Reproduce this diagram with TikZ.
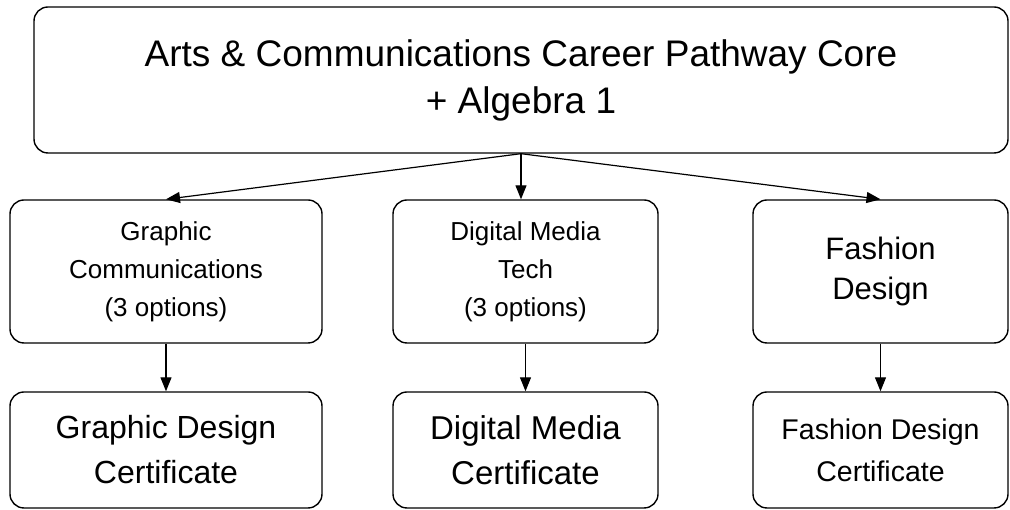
\documentclass[tikz,border=0pt]{standalone}
\usepackage{fontspec}
\setmainfont{Liberation Sans}
\usetikzlibrary{arrows.meta}

\tikzset{
  box/.style={draw, line width=1.4pt, rounded corners=14pt, align=center, inner sep=0pt},
  link/.style={-{Triangle[length=14pt,width=11pt]}, line width=1.2pt},
}

\begin{document}
\begin{tikzpicture}[x=1pt,y=1pt]
\useasboundingbox (0,0) rectangle (1010,510);

% Nucleo comun
\node[box, minimum width=974pt, minimum height=146pt, font=\fontsize{37}{47}\selectfont]
  (core) at (521,430) {Arts \& Communications Career Pathway Core\\+ Algebra 1};

% Itinerarios
\node[box, minimum width=312pt, minimum height=143pt, font=\fontsize{26}{38}\selectfont]
  (graphic) at (166,238.5) {Graphic\\Communications\\(3 options)};
\node[box, minimum width=265pt, minimum height=143pt, font=\fontsize{26}{38}\selectfont]
  (digital) at (525.5,238.5) {Digital Media\\Tech\\(3 options)};
\node[box, minimum width=255pt, minimum height=143pt, font=\fontsize{31}{40}\selectfont]
  (fashion) at (880.5,238.5) {Fashion\\Design};

% Certificados
\node[box, minimum width=312pt, minimum height=116pt, font=\fontsize{32}{45}\selectfont]
  (graphiccert) at (166,60) {Graphic Design\\Certificate};
\node[box, minimum width=265pt, minimum height=116pt, font=\fontsize{33}{45}\selectfont]
  (digitalcert) at (525.5,60) {Digital Media\\Certificate};
\node[box, minimum width=255pt, minimum height=116pt, font=\fontsize{28.5}{42}\selectfont]
  (fashioncert) at (880.5,60) {Fashion Design\\Certificate};

% Flechas
\draw[link] (core.south) -- (graphic.north);
\draw[link] (core.south) -- (core.south |- digital.north);
\draw[link] (core.south) -- (fashion.north);
\draw[link] (graphic) -- (graphiccert);
\draw[link] (digital) -- (digitalcert);
\draw[link] (fashion) -- (fashioncert);
\end{tikzpicture}
\end{document}
